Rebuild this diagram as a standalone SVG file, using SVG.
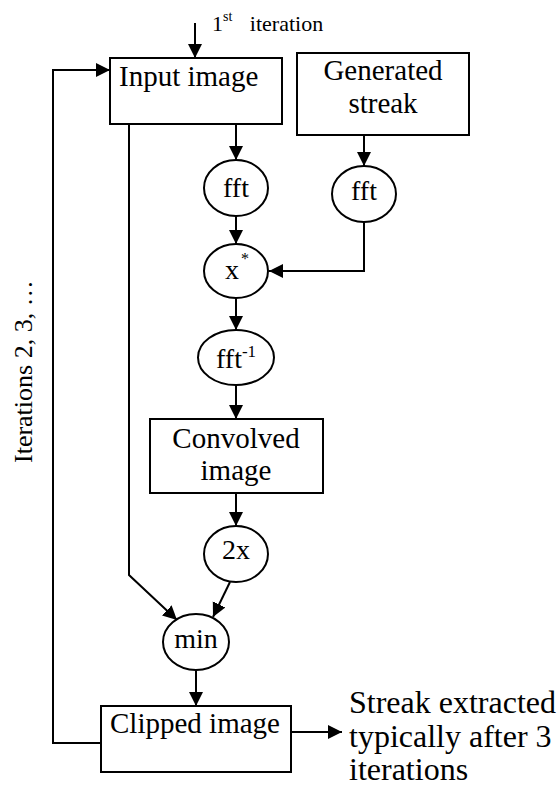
<svg xmlns="http://www.w3.org/2000/svg" width="559" height="795" viewBox="0 0 559 795">
<defs>
<marker id="ah" markerUnits="userSpaceOnUse" markerWidth="15" markerHeight="15" refX="14" refY="7" orient="auto">
<path d="M0,0 L14,7 L0,14 z" fill="#000"/>
</marker>
<style>
text{font-family:"Liberation Serif","Times New Roman",serif;fill:#000}
.box{fill:#fff;stroke:#000;stroke-width:2}
.ell{fill:#fff;stroke:#000;stroke-width:2}
.c{fill:none;stroke:#000;stroke-width:2;marker-end:url(#ah)}
.t{font-size:29px}
.e{font-size:28px;text-anchor:middle}
</style>
</defs>
<rect width="559" height="795" fill="#fff"/>
<g id="connectors">
<path class="c" d="M195,23 V58"/>
<path class="c" d="M236,124 V160"/>
<path class="c" d="M364,135 V166"/>
<path class="c" d="M236,216 V244"/>
<path class="c" d="M364,222 V271 H269"/>
<path class="c" d="M236,298 V330"/>
<path class="c" d="M236,385 V419"/>
<path class="c" d="M236,493 V526"/>
<path class="c" d="M129,124 V575 L177,620"/>
<path class="c" d="M230,582 L213,617"/>
<path class="c" d="M196,671 V706"/>
<path class="c" d="M101,743 H53 V70 H110"/>
<path class="c" d="M291,732 H342"/>
</g>
<g id="first-iteration">
<text x="212" y="31" style="font-size:22px">1<tspan dy="-10" style="font-size:14px">st</tspan><tspan dy="10" dx="12"> iteration</tspan></text>
</g>
<g id="input-image">
<rect class="box" x="110" y="58" width="172" height="66"/>
<text class="t" x="119" y="86">Input image</text>
</g>
<g id="generated-streak">
<rect class="box" x="297" y="53" width="172" height="82"/>
<text class="t" x="383" y="80" text-anchor="middle">Generated</text>
<text class="t" x="383" y="113" text-anchor="middle">streak</text>
</g>
<g id="fft-left">
<ellipse class="ell" cx="236" cy="188" rx="32" ry="28"/>
<text class="e" x="236" y="197">fft</text>
</g>
<g id="fft-right">
<ellipse class="ell" cx="364" cy="194" rx="32" ry="28"/>
<text class="e" x="364" y="200">fft</text>
</g>
<g id="conj-mult">
<ellipse class="ell" cx="236" cy="271" rx="32" ry="27"/>
<text x="232" y="279" style="font-size:28px" text-anchor="middle">x</text>
<text x="245" y="264" style="font-size:16px" text-anchor="middle">*</text>
</g>
<g id="ifft">
<ellipse class="ell" cx="236" cy="357.5" rx="38" ry="27.5"/>
<text x="216" y="368" style="font-size:28px">fft<tspan dy="-11" style="font-size:17px">-1</tspan></text>
</g>
<g id="convolved-image">
<rect class="box" x="150" y="419" width="173" height="74"/>
<text class="t" x="236" y="448" text-anchor="middle">Convolved</text>
<text class="t" x="236" y="480" text-anchor="middle">image</text>
</g>
<g id="double">
<ellipse class="ell" cx="236" cy="554" rx="32" ry="28"/>
<text class="e" x="236" y="559">2x</text>
</g>
<g id="min">
<ellipse class="ell" cx="196" cy="642" rx="33" ry="28"/>
<text class="e" x="196" y="648">min</text>
</g>
<g id="clipped-image">
<rect class="box" x="101" y="706" width="190" height="66"/>
<text class="t" x="110" y="733">Clipped image</text>
</g>
<g id="iterations-label">
<text transform="translate(31.5,463) rotate(-90)" style="font-size:26px">Iterations 2, 3, …</text>
</g>
<g id="output-label">
<text x="349" y="713" style="font-size:32px">Streak extracted</text>
<text x="349" y="747" style="font-size:32px">typically after 3</text>
<text x="349" y="780" style="font-size:32px">iterations</text>
</g>
</svg>
